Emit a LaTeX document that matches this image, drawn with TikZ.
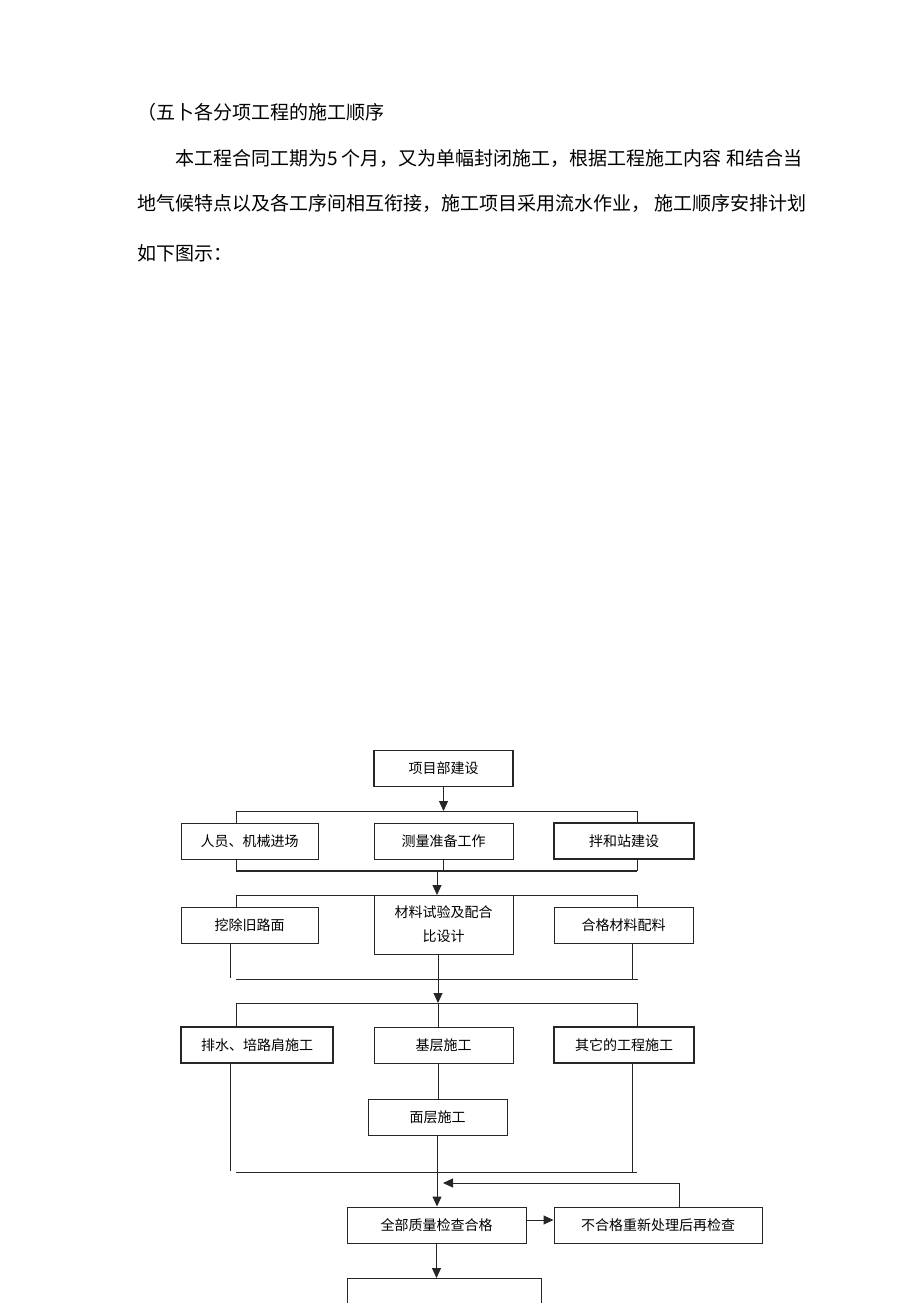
\documentclass[tikz,border=0pt]{standalone}
\usepackage{fontspec}
\newfontfamily\cjk{Noto Sans CJK SC}
\usetikzlibrary{arrows.meta}

\tikzset{
  box/.style={draw=black!85, line width=1pt, inner sep=0pt, minimum height=36pt,
    align=center, font=\cjk\fontsize{14}{24}\selectfont},
  boxbold/.style={box, line width=1.8pt},
  para/.style={anchor=west, inner sep=0pt, font=\cjk\fontsize{19}{19}\selectfont},
  link/.style={draw=black!85, line width=1pt},
  >={Triangle[length=10pt,width=9pt]}
}

\begin{document}
\begin{tikzpicture}[x=1pt,y=-1pt]
\useasboundingbox (0,0) rectangle (920,1303);
\clip (0,0) rectangle (920,1303);

% text above the chart
\node[para] (title) at (137,112) {（五卜各分项工程的施工顺序};
\node[para] (line1) at (175,158) {本工程合同工期为5 个月，又为单幅封闭施工，根据工程施工内容 和结合当};
\node[para] (line2) at (137,203) {地气候特点以及各工序间相互衔接，施工项目采用流水作业， 施工顺序安排计划};
\node[para] (line3) at (137,253) {如下图示：};

% boxes
\node[boxbold, minimum width=139pt] (proj) at (443.5,768.5) {项目部建设};
\node[box, minimum width=137pt] (staff) at (249.5,841) {人员、机械进场};
\node[box, minimum width=139pt] (survey) at (443.5,841) {测量准备工作};
\node[boxbold, minimum width=140pt] (mix) at (624,841) {拌和站建设};
\node[box, minimum width=137pt] (dig) at (249.5,925) {挖除旧路面};
\node[box, minimum width=139pt, minimum height=59pt] (test) at (443.5,924.5) {材料试验及配合\\比设计};
\node[box, minimum width=139pt] (qual) at (623.5,925) {合格材料配料};
\node[boxbold, minimum width=152pt] (drain) at (257,1045) {排水、培路肩施工};
\node[box, minimum width=139pt] (base) at (443.5,1045) {基层施工};
\node[boxbold, minimum width=140pt] (other) at (624,1045) {其它的工程施工};
\node[box, minimum width=139pt] (surf) at (437.5,1117) {面层施工};
\node[box, minimum width=179pt] (check) at (436.5,1225) {全部质量检查合格};
\node[box, minimum width=208pt] (redo) at (658,1225) {不合格重新处理后再检查};
\node[box, minimum width=194pt, minimum height=50pt, anchor=north] (next) at (444,1278) {};

% bar points
\coordinate (b1l) at (236,811);  \coordinate (b1r) at (637,811);
\coordinate (b2l) at (236,871);  \coordinate (b2r) at (637,871);
\coordinate (b3l) at (236,895);  \coordinate (b3r) at (637,895);
\coordinate (b4l) at (236,979);  \coordinate (b4r) at (638,979);
\coordinate (b5l) at (236,1003); \coordinate (b5r) at (637,1003);
\coordinate (b6l) at (236,1172); \coordinate (b6r) at (637,1172);
\coordinate (a2) at (437,871);
\coordinate (v4l) at (230,978);  \coordinate (v4m) at (438,979);  \coordinate (v4r) at (632,979);
\coordinate (v6l) at (230,1171); \coordinate (v6m) at (437,1172); \coordinate (v6r) at (632,1172);
\coordinate (fbr) at (679,1183); \coordinate (fbl) at (443,1183);

\draw[link,->] (proj.south) -- (proj.south |- b1l);
\draw[link] (b1l |- staff.north) -- (b1l) -- (b1r) -- (b1r |- mix.north);

\draw[link] (b2l |- staff.south) -- (b2l);
\draw[link] (survey.south) -- (survey.south |- b2l);
\draw[link] (b2r |- mix.south) -- (b2r);
\draw[link, line width=1.8pt] (b2l) -- (b2r);
\draw[link,->] (a2) -- (a2 |- b3l);

\draw[link] (b3l |- dig.north) -- (b3l) -- (b3r) -- (b3r |- qual.north);

\draw[link] (v4l |- dig.south) -- (v4l);
\draw[link] (v4m |- test.south) -- (v4m);
\draw[link] (v4r |- qual.south) -- (v4r);
\draw[link] (b4l) -- (b4r);
\draw[link,->] (v4m) -- (v4m |- b5l);

\draw[link] (b5l |- drain.north) -- (b5l) -- (b5r) -- (b5r |- other.north);
\draw[link] (v4m |- b5l) -- (v4m |- base.north);
\draw[link] (v4m |- base.south) -- (v4m |- surf.north);

\draw[link] (v6l |- drain.south) -- (v6l);
\draw[link] (v6m |- surf.south) -- (v6m);
\draw[link] (v6r |- other.south) -- (v6r);
\draw[link] (b6l) -- (b6r);
\draw[link,->] (v6m) -- (v6m |- check.north);

\draw[link,->] ([yshift=5pt]check.east) -- ([yshift=5pt]check.east -| redo.west);
\draw[link,->] (fbr |- redo.north) -- (fbr) -- (fbl);
\draw[link,->] (check.south) -- (check.south |- next.north);
\end{tikzpicture}
\end{document}
